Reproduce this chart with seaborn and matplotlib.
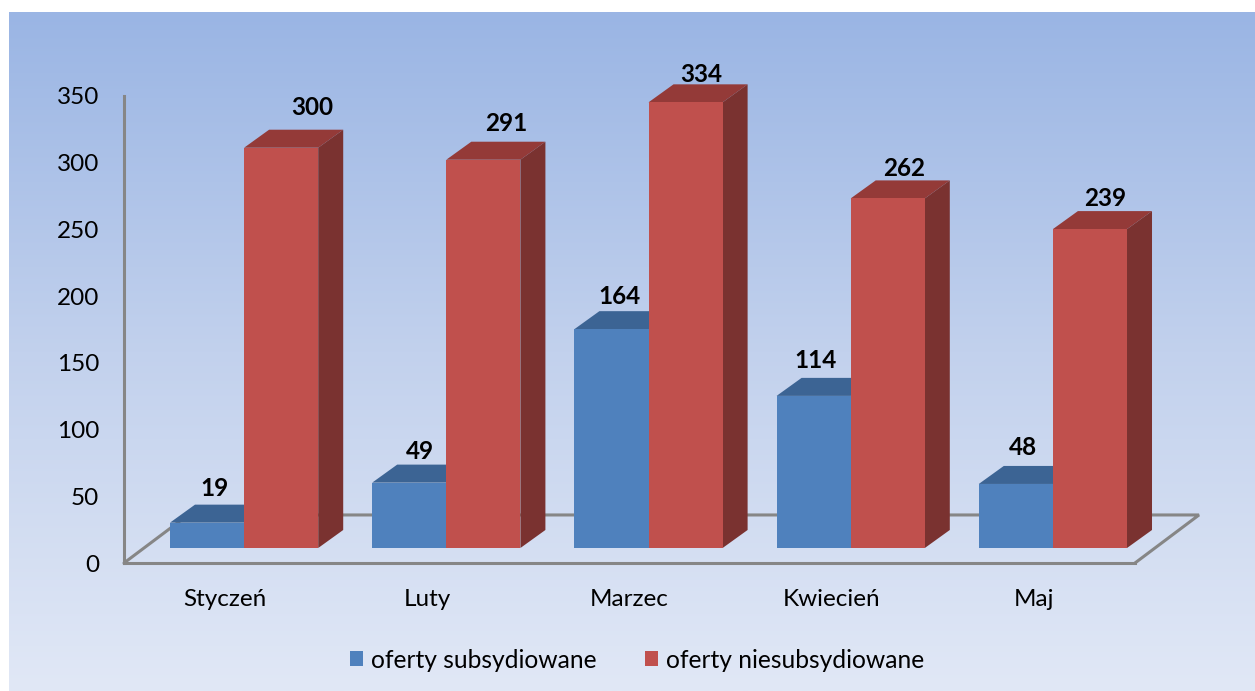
import matplotlib
matplotlib.use("Agg")
import matplotlib.pyplot as plt
from matplotlib.colors import LinearSegmentedColormap
import numpy as np
import pandas as pd
import seaborn as sns

months = ["Styczeń", "Luty", "Marzec", "Kwiecień", "Maj"]
subsidised = [19, 49, 164, 114, 48]
unsubsidised = [300, 291, 334, 262, 239]
series_names = ["oferty subsydiowane", "oferty niesubsydiowane"]
y_ticks = [0, 50, 100, 150, 200, 250, 300, 350]

# label nudges in pixels from the bar's front top edge
blue_nudge = [(7, 34), (11, 31), (8, 33), (2, 35), (7, 36)]
red_nudge = [(31, 40), (23, 36), (16, 28), (16, 30), (15, 31)]

W, H = 1255, 691
GREY = "#868686"
FONT = 17.5


def px_axes(fig, left, right, top, bottom, **kwargs):
    # axes placed from pixel edges, y measured from the top of the picture
    return fig.add_axes([left / W, 1 - bottom / H, (right - left) / W, (bottom - top) / H], **kwargs)


sns.set_theme(style="white")
plt.rcParams["font.family"] = ["Lato", "DejaVu Sans"]

fig = plt.figure(figsize=(W / 100, H / 100), dpi=100, facecolor="white")

# background gradient, white margin on the top and left
bg = px_axes(fig, 9, W, 12, H, zorder=0)
cmap = LinearSegmentedColormap.from_list("bg", ["#9ab5e4", "#c2d1ed", "#e1e8f6"])
bg.imshow(np.linspace(0, 1, 256)[:, None], aspect="auto", cmap=cmap)
bg.set_axis_off()

# frame with the axis ticks, floor and wall
frame = px_axes(fig, 124, 1135, 96, 563, zorder=1, facecolor="none")
frame.set_xlim(-0.5, 4.5)
frame.set_ylim(0, 350)
frame.set_xticks(range(len(months)), months)
frame.set_yticks(y_ticks)
frame.tick_params(axis="y", length=0, pad=18, labelsize=FONT, labelcolor="black")
frame.tick_params(axis="x", length=0, pad=18.5, labelsize=FONT, labelcolor="black")
for label in frame.get_yticklabels():
    label.set_va("center_baseline")
sns.despine(ax=frame, top=True, right=True)
for side in ["left", "bottom"]:
    frame.spines[side].set_color(GREY)
    frame.spines[side].set_linewidth(2.2)

floor_dx, floor_dy = 0.3165, 36
frame.plot([-0.5, -0.5 + floor_dx, 4.5 + floor_dx, 4.5], [0, floor_dy, floor_dy, 0],
           color=GREY, lw=2.2, clip_on=False, solid_joinstyle="miter")

# bars sit inset from the front of the floor
df = pd.DataFrame({
    "month": months * 2,
    "value": subsidised + unsubsidised,
    "series": [series_names[0]] * 5 + [series_names[1]] * 5,
})
ax = px_axes(fig, 143, 1154, 81, 548, zorder=2, facecolor="none")
sns.barplot(data=df, x="month", y="value", hue="series", palette=["#4f81bd", "#c0504d"],
            width=0.733, gap=0, saturation=1, linewidth=0, ax=ax, zorder=3)
ax.set_xlim(-0.5, 4.5)
ax.set_ylim(0, 350)

depth_x, depth_y = 25 / 202.2, 13.5
shades = [("#3c6494", "#3c6494"), ("#943a38", "#7a3230")]
nudges = [blue_nudge, red_nudge]
for i, container in enumerate(ax.containers):
    top_col, side_col = shades[i]
    z = 2 + 2 * i
    for bar, nudge in zip(container, nudges[i]):
        x0 = bar.get_x()
        x1 = x0 + bar.get_width()
        h = bar.get_height()
        bar.set_zorder(z + 1)
        ax.fill([x0, x1, x1 + depth_x, x0 + depth_x], [h, h, h + depth_y, h + depth_y],
                color=top_col, lw=0, zorder=z, clip_on=False)
        ax.fill([x1, x1 + depth_x, x1 + depth_x, x1], [0, depth_y, h + depth_y, h],
                color=side_col, lw=0, zorder=z, clip_on=False)
        ax.annotate(f"{h:.0f}", (x0 + bar.get_width() / 2, h), xytext=nudge,
                    textcoords="offset pixels", ha="center", va="center",
                    fontsize=FONT, fontweight="bold", color="black", zorder=10)

sns.move_legend(ax, "center", bbox_to_anchor=(637 / W, 1 - 660 / H),
                bbox_transform=fig.transFigure, ncol=2, title=None, frameon=False,
                fontsize=17.7, handlelength=0.54, handleheight=0.54, handletextpad=0.33,
                columnspacing=1.95, borderpad=0, labelcolor="black")
ax.set_axis_off()

fig.savefig("out.png", dpi=100)
